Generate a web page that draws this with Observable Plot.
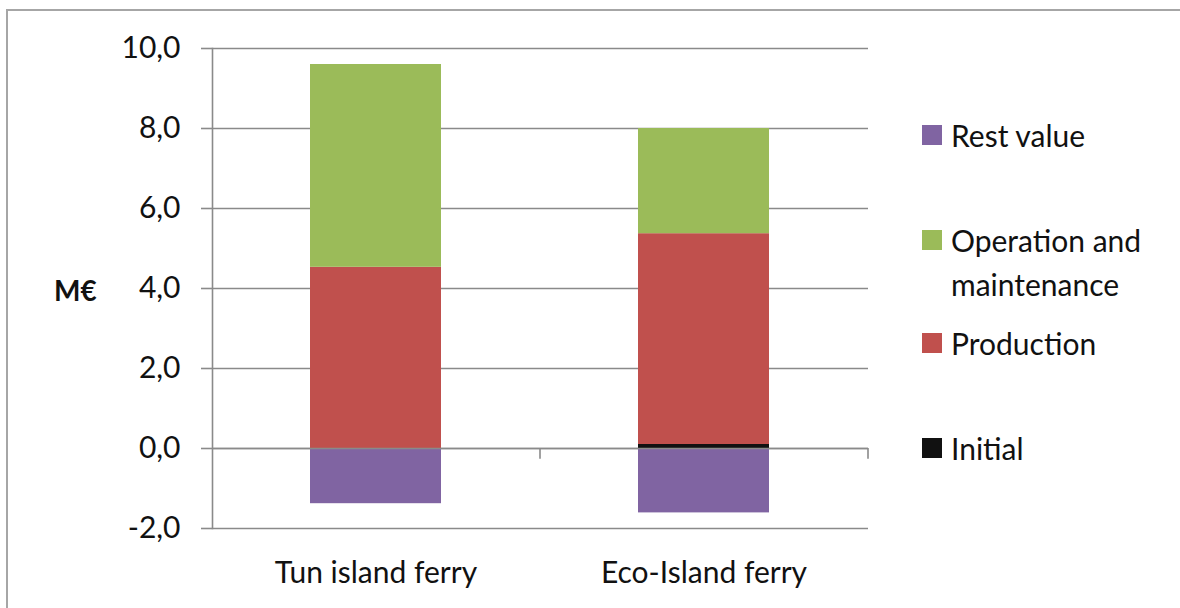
<!DOCTYPE html>
<html>
<head>
<meta charset="utf-8">
<script src="https://cdn.jsdelivr.net/npm/d3@7"></script>
<script src="https://cdn.jsdelivr.net/npm/@observablehq/plot@0.6"></script>
<style>
  html, body { margin: 0; padding: 0; background: #fff; overflow: hidden; }
  #wrap { position: relative; width: 1180px; height: 608px; overflow: hidden; font-family: Lato, sans-serif; color: #111; }
  #border { position: absolute; left: 6px; top: 9px; width: 1300px; height: 800px; border: 2px solid #a6a6a6; box-sizing: border-box; }
  #chart { position: absolute; left: 0; top: 0; }
  .legend { position: absolute; left: 922px; top: 0; width: 258px; font-size: 30px; line-height: 44px; }
  .legend .sw { position: absolute; left: 0; width: 20px; height: 20px; }
  .legend .lb { position: absolute; left: 29px; white-space: nowrap; }
  .unit { position: absolute; font-weight: bold; font-size: 28px; }
</style>
</head>
<body>
<div id="wrap">
  <div id="border"></div>
  <div id="chart"></div>
  <div class="legend" id="legend"></div>
</div>
<script>
// Life-cycle cost per ferry, million euros
const categories = ["Tun island ferry", "Eco-Island ferry"];
const initial = [0, 0.1];
const production = [4.53, 5.27];
const operationMaintenance = [5.07, 2.63];
const restValue = [-1.38, -1.61];

const seriesNames = ["Initial", "Production", "Operation and maintenance", "Rest value"];
const seriesColors = ["#111111", "#C0504D", "#9BBB59", "#8064A2"];
const yTicks = [-2, 0, 2, 4, 6, 8, 10];

const seriesValues = [initial, production, operationMaintenance, restValue];
const rows = [];
seriesNames.forEach((name, s) => {
  categories.forEach((cat, i) => {
    rows.push({category: cat, series: name, value: seriesValues[s][i]});
  });
});

const fmt = d => d.toFixed(1).replace(".", ",");
const gray = "#8a8a8a";

const chart = Plot.plot({
  width: 1180,
  height: 608,
  marginLeft: 212,
  marginRight: 312,
  marginTop: 48,
  marginBottom: 80,
  style: {fontFamily: "Lato, sans-serif", fontSize: "30px", color: "#111", background: "transparent"},
  x: {domain: categories, paddingInner: 0.6, paddingOuter: 0.3, label: null},
  y: {domain: [-2, 10], ticks: yTicks, label: null},
  color: {domain: seriesNames, range: seriesColors},
  marks: [
    Plot.gridY(yTicks, {stroke: gray, strokeOpacity: 1, strokeWidth: 1.6}),
    Plot.barY(rows, {
      x: "category",
      y: "value",
      fill: "series",
      order: seriesNames
    }),
    Plot.ruleY([0], {stroke: gray, strokeWidth: 1.6}),
    // category separator ticks below the zero line
    Plot.ruleX(categories, {x: d => d, dx: 164, y1: 0, y2: -0.27, stroke: gray, strokeWidth: 1.6}),
    Plot.frame({anchor: "left", stroke: gray, strokeWidth: 1.6}),
    Plot.axisY(yTicks, {tickSize: 11, tickPadding: 21, stroke: gray, strokeWidth: 1.6, tickFormat: fmt, label: null}),
    Plot.axisX({tickSize: 0, tickPadding: 33, label: null})
  ]
});
document.getElementById("chart").appendChild(chart);

// Y-axis unit label
const unit = document.createElement("div");
unit.className = "unit";
unit.textContent = "M€";
unit.style.left = "54px";
unit.style.top = "273px";
document.getElementById("wrap").appendChild(unit);

// Legend, listed top to bottom in reverse stacking order
const legendEntries = [
  {name: "Rest value", lines: ["Rest value"], top: 125},
  {name: "Operation and maintenance", lines: ["Operation and", "maintenance"], top: 230},
  {name: "Production", lines: ["Production"], top: 333},
  {name: "Initial", lines: ["Initial"], top: 438}
];
const legend = document.getElementById("legend");
legendEntries.forEach(e => {
  const sw = document.createElement("div");
  sw.className = "sw";
  sw.style.top = e.top + "px";
  sw.style.background = seriesColors[seriesNames.indexOf(e.name)];
  legend.appendChild(sw);
  const lb = document.createElement("div");
  lb.className = "lb";
  lb.style.top = (e.top - 12) + "px";
  lb.innerHTML = e.lines.join("<br>");
  legend.appendChild(lb);
});
</script>
</body>
</html>
